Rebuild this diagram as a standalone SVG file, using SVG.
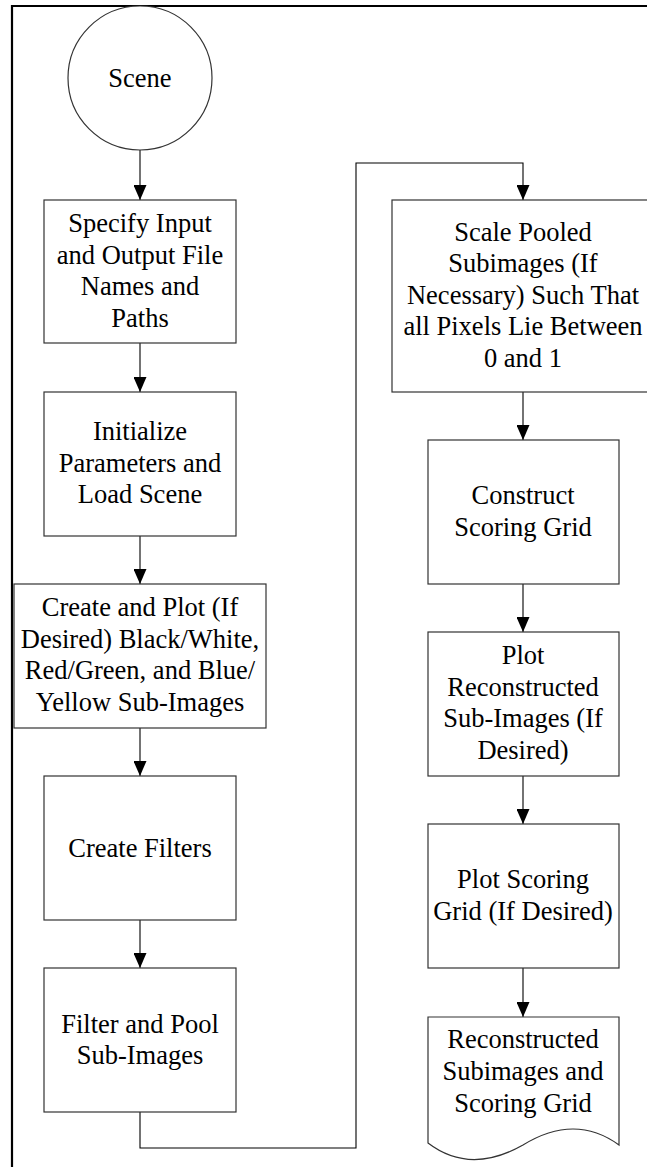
<svg xmlns="http://www.w3.org/2000/svg" width="647" height="1167" viewBox="0 0 647 1167">
<style>
.n{fill:#fff;stroke:#333;stroke-width:1.2}
.t{font-family:'Liberation Serif',serif;font-size:26.5px;fill:#000;text-anchor:middle}
.c{fill:none;stroke:#000;stroke-width:1.1}
</style>
<defs>
<marker id="ah" markerUnits="userSpaceOnUse" markerWidth="15" markerHeight="13" refX="15" refY="6.5" orient="auto">
<path d="M0,0 L15,6.5 L0,13 z" fill="#000"/>
</marker>
</defs>
<rect width="647" height="1167" fill="#fff"/>
<path d="M12,1167 V6 H647" fill="none" stroke="#000" stroke-width="2.2"/>
<g id="connectors">
<path class="c" d="M140,150 V200" marker-end="url(#ah)"/>
<path class="c" d="M140,343 V392" marker-end="url(#ah)"/>
<path class="c" d="M140,536 V584" marker-end="url(#ah)"/>
<path class="c" d="M140,728 V776" marker-end="url(#ah)"/>
<path class="c" d="M140,920 V968" marker-end="url(#ah)"/>
<path class="c" d="M140,1112 V1148 H356 V163 H523 V200" marker-end="url(#ah)"/>
<path class="c" d="M523,392 V440" marker-end="url(#ah)"/>
<path class="c" d="M523,584 V632" marker-end="url(#ah)"/>
<path class="c" d="M523,776 V824" marker-end="url(#ah)"/>
<path class="c" d="M523,968 V1017" marker-end="url(#ah)"/>
</g>
<g font-family="Liberation Serif">
<g id="scene">
<circle class="n" cx="140" cy="78" r="72"/>
<text class="t" x="140" y="87">Scene</text>
</g>
<g id="specify">
<rect class="n" x="44" y="200" width="192" height="143"/>
<text class="t" x="140" y="232">Specify Input</text>
<text class="t" x="140" y="263.5">and Output File</text>
<text class="t" x="140" y="295">Names and</text>
<text class="t" x="140" y="326.5">Paths</text>
</g>
<g id="initialize">
<rect class="n" x="44" y="392" width="192" height="144"/>
<text class="t" x="140" y="440">Initialize</text>
<text class="t" x="140" y="471.5">Parameters and</text>
<text class="t" x="140" y="503">Load Scene</text>
</g>
<g id="createplot">
<rect class="n" x="14" y="584" width="252" height="144"/>
<text class="t" x="140" y="616">Create and Plot (If</text>
<text class="t" x="140" y="647.5">Desired) Black/White,</text>
<text class="t" x="140" y="679">Red/Green, and Blue/</text>
<text class="t" x="140" y="710.5">Yellow Sub-Images</text>
</g>
<g id="filters">
<rect class="n" x="44" y="776" width="192" height="144"/>
<text class="t" x="140" y="856.5">Create Filters</text>
</g>
<g id="filterpool">
<rect class="n" x="44" y="968" width="192" height="144"/>
<text class="t" x="140" y="1032.5">Filter and Pool</text>
<text class="t" x="140" y="1064">Sub-Images</text>
</g>
<g id="scale">
<rect class="n" x="392" y="200" width="262" height="192"/>
<text class="t" x="523" y="240.5">Scale Pooled</text>
<text class="t" x="523" y="272">Subimages (If</text>
<text class="t" x="523" y="303.5">Necessary) Such That</text>
<text class="t" x="523" y="335">all Pixels Lie Between</text>
<text class="t" x="523" y="366.5">0 and 1</text>
</g>
<g id="construct">
<rect class="n" x="428" y="440" width="191" height="144"/>
<text class="t" x="523" y="504">Construct</text>
<text class="t" x="523" y="535.5">Scoring Grid</text>
</g>
<g id="plotrecon">
<rect class="n" x="428" y="632" width="191" height="144"/>
<text class="t" x="523" y="664">Plot</text>
<text class="t" x="523" y="695.5">Reconstructed</text>
<text class="t" x="523" y="727">Sub-Images (If</text>
<text class="t" x="523" y="758.5">Desired)</text>
</g>
<g id="plotgrid">
<rect class="n" x="428" y="824" width="191" height="144"/>
<text class="t" x="523" y="888">Plot Scoring</text>
<text class="t" x="523" y="919.5">Grid (If Desired)</text>
</g>
<g id="output">
<path class="n" d="M428,1017 H619 V1145 Q575,1113 523,1145 Q470,1175 428,1143 Z"/>
<text class="t" x="523" y="1048">Reconstructed</text>
<text class="t" x="523" y="1080">Subimages and</text>
<text class="t" x="523" y="1112">Scoring Grid</text>
</g>
</g>
</svg>
